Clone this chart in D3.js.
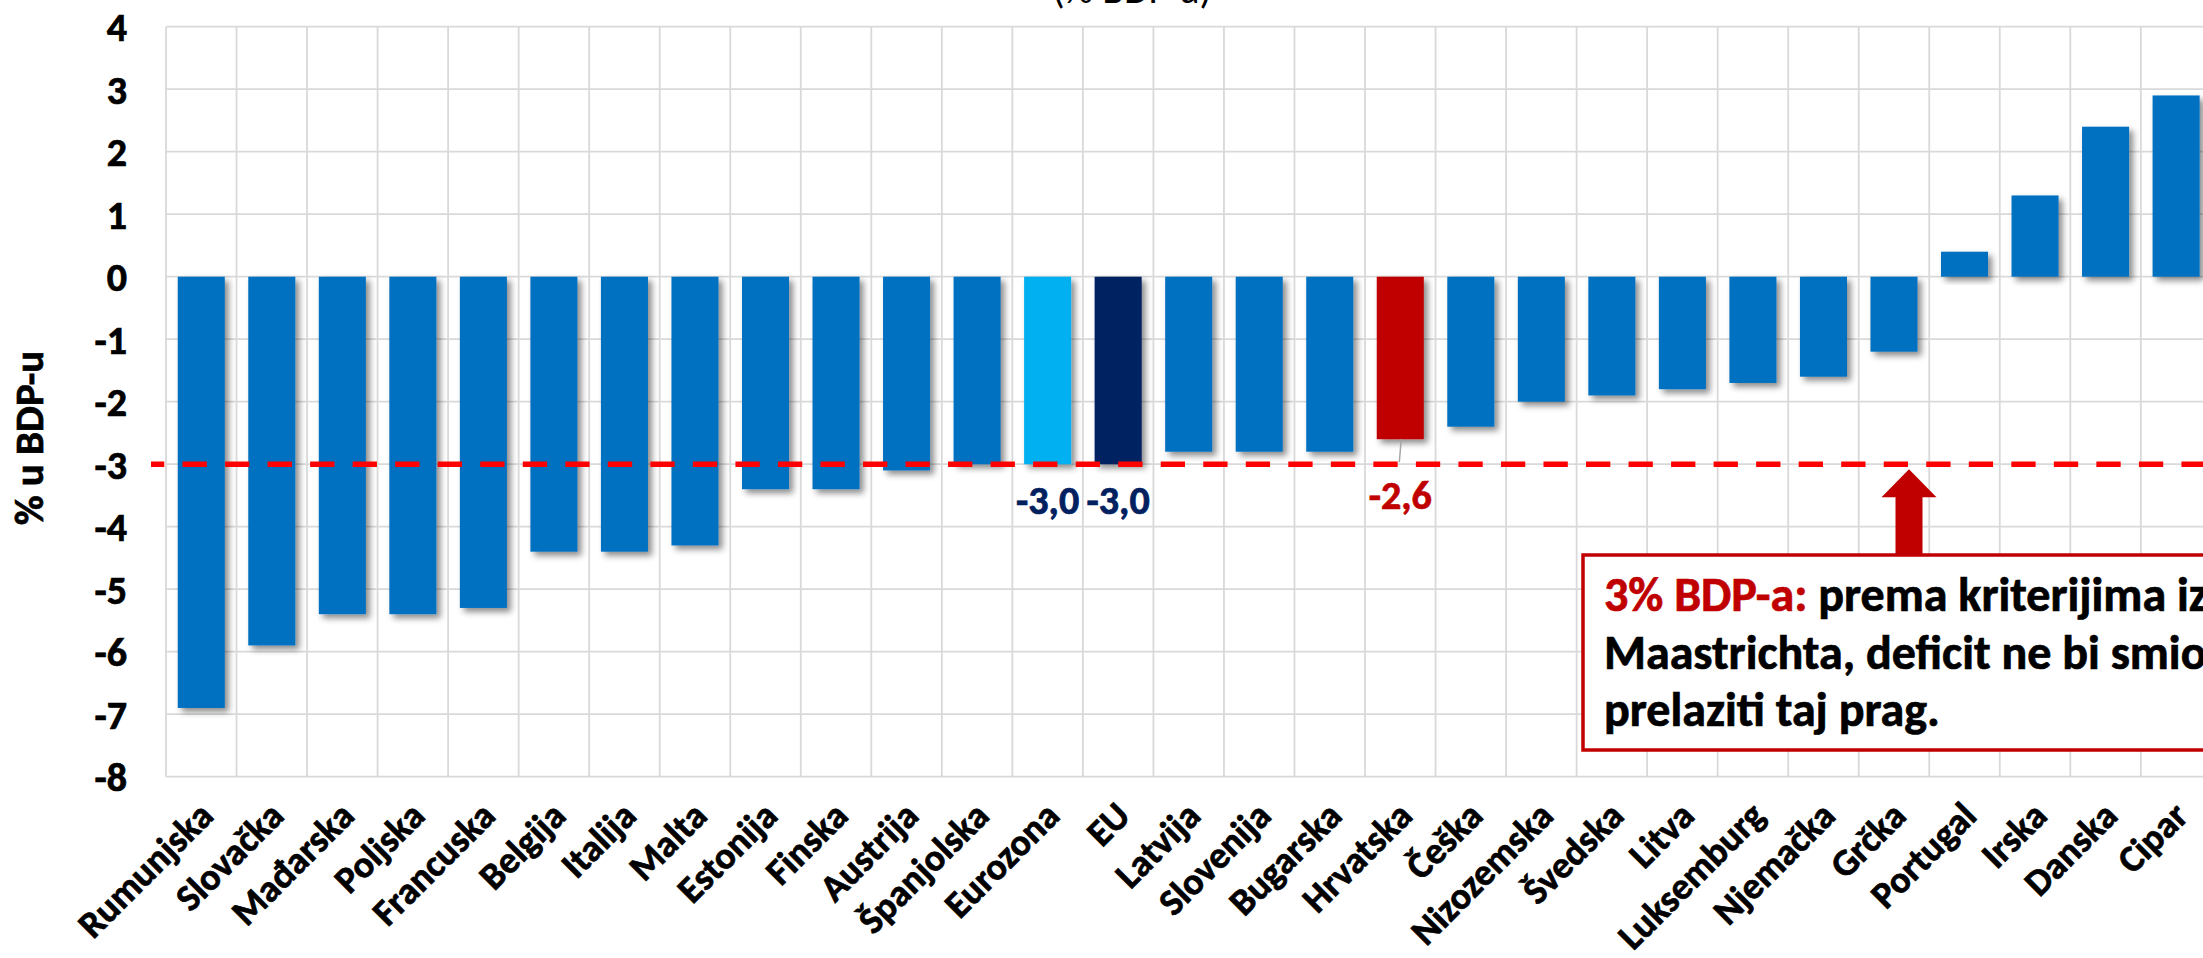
<!DOCTYPE html>
<html>
<head>
<meta charset="utf-8">
<script src="https://cdn.jsdelivr.net/npm/d3@7"></script>
<style>
  html, body { margin: 0; padding: 0; background: #fff; overflow: hidden; }
  svg { display: block; font-family: Carlito, Calibri, Lato, sans-serif; }
  .bold { font-weight: 700; stroke-width: 0.7px; }
</style>
</head>
<body>
<div id="chart"></div>
<script>
(function () {
  'use strict';

  // Categories (left to right) and deficit values, % of GDP
  const CATEGORIES = [
    'Rumunjska', 'Slovačka', 'Mađarska', 'Poljska', 'Francuska', 'Belgija',
    'Italija', 'Malta', 'Estonija', 'Finska', 'Austrija', 'Španjolska',
    'Eurozona', 'EU', 'Latvija', 'Slovenija', 'Bugarska', 'Hrvatska',
    'Češka', 'Nizozemska', 'Švedska', 'Litva', 'Luksemburg', 'Njemačka',
    'Grčka', 'Portugal', 'Irska', 'Danska', 'Cipar'
  ];
  const VALUES = [
    -6.9, -5.9, -5.4, -5.4, -5.3, -4.4,
    -4.4, -4.3, -3.4, -3.4, -3.1, -3.0,
    -3.0, -3.0, -2.8, -2.8, -2.8, -2.6,
    -2.4, -2.0, -1.9, -1.8, -1.7, -1.6,
    -1.2, 0.4, 1.3, 2.4, 2.9
  ];
  const Y_TICKS = [4, 3, 2, 1, 0, -1, -2, -3, -4, -5, -6, -7, -8];
  const LABELLED = ['Eurozona', 'EU', 'Hrvatska'];
  const THRESHOLD = -3;

  const TITLE = '(% BDP-a)';
  const Y_TITLE = '% u BDP-u';
  const NOTE_HEAD = '3% BDP-a:';
  const NOTE_LINES = [' prema kriterijima iz', 'Maastrichta, deficit ne bi smio', 'prelaziti taj prag.'];

  const BAR_COLOR = '#0070C0';
  const SPECIAL = { 'Eurozona': '#00B0F0', 'EU': '#002060', 'Hrvatska': '#C00000' };
  const LABEL_COLOR = { 'Eurozona': '#002060', 'EU': '#002060', 'Hrvatska': '#C00000' };
  const RED = '#C00000';
  const GRID = '#D9D9D9';

  const W = 2203, H = 958;
  const left = 166, step = 70.53;
  const top = 26.7, bottom = 776.7;

  const svg = d3.select('#chart').append('svg')
    .attr('width', W).attr('height', H)
    .attr('viewBox', `0 0 ${W} ${H}`);

  const defs = svg.append('defs');
  defs.append('filter').attr('id', 'shadow')
    .attr('x', '-20%').attr('y', '-20%').attr('width', '150%').attr('height', '150%')
    .append('feDropShadow')
    .attr('dx', 4).attr('dy', 4).attr('stdDeviation', 3)
    .attr('flood-color', '#000').attr('flood-opacity', 0.45);

  const x = d3.scaleBand()
    .domain(CATEGORIES)
    .range([left, left + CATEGORIES.length * step])
    .paddingInner(0.333)
    .paddingOuter(0.1665);
  const y = d3.scaleLinear().domain([-8, 4]).range([bottom, top]);
  const right = left + CATEGORIES.length * step;

  // Grid: horizontal lines at ticks, vertical lines at category borders
  svg.append('g').selectAll('line')
    .data(Y_TICKS).join('line')
    .attr('x1', left).attr('x2', right)
    .attr('y1', d => y(d)).attr('y2', d => y(d))
    .attr('stroke', GRID).attr('stroke-width', 1.8);

  svg.append('g').selectAll('line')
    .data(d3.range(CATEGORIES.length + 1)).join('line')
    .attr('x1', i => left + i * x.step()).attr('x2', i => left + i * x.step())
    .attr('y1', y(4)).attr('y2', y(-8))
    .attr('stroke', GRID).attr('stroke-width', 1.8);

  // Y tick labels
  svg.append('g').selectAll('text')
    .data(Y_TICKS).join('text')
    .attr('class', 'bold')
    .attr('x', 127).attr('y', d => y(d)).attr('dy', '0.36em')
    .attr('text-anchor', 'end')
    .attr('font-size', 40).attr('fill', '#000').attr('stroke', '#000')
    .text(d => String(d));

  // Y axis title
  svg.append('text')
    .attr('class', 'bold')
    .attr('transform', `translate(43,${438}) rotate(-90)`)
    .attr('text-anchor', 'middle')
    .attr('font-size', 41).attr('fill', '#000').attr('stroke', '#000')
    .text(Y_TITLE);

  // Title (cropped at the top of the picture)
  svg.append('text')
    .attr('x', 1132).attr('y', 3)
    .attr('text-anchor', 'middle')
    .attr('font-size', 40).attr('fill', '#000')
    .text(TITLE);

  // Bars
  svg.append('g').selectAll('rect')
    .data(CATEGORIES).join('rect')
    .attr('x', d => x(d))
    .attr('width', x.bandwidth())
    .attr('y', (d, i) => y(Math.max(0, VALUES[i])))
    .attr('height', (d, i) => Math.abs(y(VALUES[i]) - y(0)))
    .attr('fill', d => SPECIAL[d] || BAR_COLOR)
    .attr('filter', 'url(#shadow)');

  // X labels, rotated
  svg.append('g').selectAll('text')
    .data(CATEGORIES).join('text')
    .attr('class', 'bold')
    .attr('transform', d => `translate(${x(d) + x.bandwidth() / 2 + 14},${818}) rotate(-45)`)
    .attr('text-anchor', 'end')
    .attr('font-size', 37.5).attr('fill', '#000').attr('stroke', '#000')
    .text(d => d);

  // Maastricht threshold line
  svg.append('line')
    .attr('x1', 151).attr('x2', W + 20)
    .attr('y1', y(THRESHOLD)).attr('y2', y(THRESHOLD))
    .attr('stroke', '#FF0000').attr('stroke-width', 5.5)
    .attr('stroke-dasharray', '24.3,18.23')
    .attr('stroke-dashoffset', 11);

  // Data labels for highlighted bars
  const labelled = CATEGORIES.map((c, i) => ({ c, v: VALUES[i] })).filter(d => LABELLED.includes(d.c));
  const fmt = v => v.toFixed(1).replace('.', ',');

  // leader line for Hrvatska
  const hr = labelled.find(d => d.c === 'Hrvatska');
  svg.append('line')
    .attr('x1', x(hr.c) + x.bandwidth() / 2 + 1).attr('x2', x(hr.c) + x.bandwidth() / 2 - 1)
    .attr('y1', y(hr.v)).attr('y2', y(THRESHOLD) - 2)
    .attr('stroke', '#A6A6A6').attr('stroke-width', 1.5);

  svg.append('g').selectAll('text')
    .data(labelled).join('text')
    .attr('class', 'bold')
    .attr('x', d => x(d.c) + x.bandwidth() / 2)
    .attr('y', d => d.c === 'Hrvatska' ? 509 : 514)
    .attr('text-anchor', 'middle')
    .attr('font-size', 40)
    .attr('fill', d => LABEL_COLOR[d.c]).attr('stroke', d => LABEL_COLOR[d.c])
    .text(d => fmt(d.v));

  // Annotation: arrow + box
  const tipX = 1909, tipY = y(THRESHOLD) + 5;
  const boxX = 1583, boxY = 555, boxH = 195;
  const headY = tipY + 28, headHW = 27.5, shaftHW = 13.5;
  svg.append('polygon')
    .attr('points', [
      [tipX, tipY], [tipX + headHW, headY], [tipX + shaftHW, headY], [tipX + shaftHW, boxY],
      [tipX - shaftHW, boxY], [tipX - shaftHW, headY], [tipX - headHW, headY]
    ].map(p => p.join(',')).join(' '))
    .attr('fill', RED);

  svg.append('rect')
    .attr('x', boxX).attr('y', boxY)
    .attr('width', 720).attr('height', boxH)
    .attr('fill', '#fff').attr('stroke', RED).attr('stroke-width', 3.5);

  const note = svg.append('text')
    .attr('class', 'bold')
    .attr('font-size', 48).attr('fill', '#000').attr('stroke', '#000');
  const line1 = note.append('tspan').attr('x', 1604).attr('y', 611);
  line1.append('tspan').attr('fill', RED).attr('stroke', RED).text(NOTE_HEAD);
  line1.append('tspan').text(NOTE_LINES[0]);
  note.append('tspan').attr('x', 1604).attr('y', 669).text(NOTE_LINES[1]);
  note.append('tspan').attr('x', 1604).attr('y', 726).text(NOTE_LINES[2]);
})();
</script>
</body>
</html>
